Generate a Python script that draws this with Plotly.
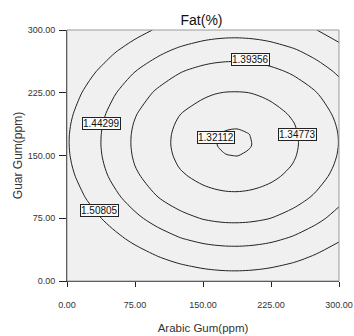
import plotly.graph_objects as go

# Response-surface grid (Arabic Gum x Guar Gum, ppm); Fat(%) values
x_vals = [0, 25, 50, 75, 100, 125, 150, 162.5, 175, 187.5, 200, 212.5, 225, 250, 275, 300]
y_vals = [0, 25, 50, 75, 100, 125, 137.5, 150, 162.5, 175, 187.5, 200, 225, 250, 275, 300]
fat_z = [
    [1.7314, 1.6824, 1.6406, 1.6059, 1.5783, 1.5578, 1.5444, 1.5404, 1.5381, 1.5376, 1.5389, 1.5420, 1.5468, 1.5618, 1.5839, 1.6131],
    [1.6705, 1.6215, 1.5797, 1.5450, 1.5174, 1.4969, 1.4835, 1.4795, 1.4772, 1.4767, 1.4780, 1.4811, 1.4859, 1.5009, 1.5230, 1.5522],
    [1.6195, 1.5706, 1.5288, 1.4940, 1.4664, 1.4459, 1.4325, 1.4285, 1.4262, 1.4257, 1.4270, 1.4301, 1.4349, 1.4499, 1.4720, 1.5012],
    [1.5784, 1.5295, 1.4877, 1.4530, 1.4254, 1.4049, 1.3915, 1.3874, 1.3851, 1.3847, 1.3859, 1.3890, 1.3938, 1.4088, 1.4309, 1.4601],
    [1.5472, 1.4983, 1.4565, 1.4218, 1.3942, 1.3737, 1.3603, 1.3563, 1.3540, 1.3535, 1.3548, 1.3578, 1.3627, 1.3777, 1.3998, 1.4290],
    [1.5260, 1.4771, 1.4353, 1.4005, 1.3729, 1.3524, 1.3390, 1.3350, 1.3327, 1.3322, 1.3335, 1.3366, 1.3414, 1.3564, 1.3785, 1.4077],
    [1.5191, 1.4702, 1.4284, 1.3936, 1.3660, 1.3455, 1.3321, 1.3281, 1.3258, 1.3253, 1.3266, 1.3297, 1.3345, 1.3495, 1.3716, 1.4008],
    [1.5146, 1.4657, 1.4239, 1.3892, 1.3616, 1.3411, 1.3277, 1.3237, 1.3214, 1.3209, 1.3222, 1.3252, 1.3301, 1.3451, 1.3672, 1.3964],
    [1.5127, 1.4638, 1.4220, 1.3873, 1.3597, 1.3391, 1.3257, 1.3217, 1.3194, 1.3189, 1.3202, 1.3233, 1.3281, 1.3431, 1.3652, 1.3944],
    [1.5132, 1.4643, 1.4225, 1.3878, 1.3602, 1.3397, 1.3263, 1.3222, 1.3200, 1.3195, 1.3208, 1.3238, 1.3287, 1.3437, 1.3657, 1.3949],
    [1.5162, 1.4673, 1.4255, 1.3908, 1.3632, 1.3427, 1.3293, 1.3252, 1.3230, 1.3225, 1.3238, 1.3268, 1.3317, 1.3467, 1.3687, 1.3979],
    [1.5217, 1.4728, 1.4310, 1.3963, 1.3687, 1.3482, 1.3348, 1.3307, 1.3284, 1.3280, 1.3292, 1.3323, 1.3371, 1.3521, 1.3742, 1.4034],
    [1.5401, 1.4912, 1.4494, 1.4147, 1.3871, 1.3666, 1.3532, 1.3491, 1.3468, 1.3464, 1.3476, 1.3507, 1.3555, 1.3705, 1.3926, 1.4218],
    [1.5684, 1.5195, 1.4777, 1.4430, 1.4154, 1.3949, 1.3815, 1.3774, 1.3752, 1.3747, 1.3760, 1.3790, 1.3838, 1.3988, 1.4209, 1.4501],
    [1.6066, 1.5577, 1.5159, 1.4812, 1.4536, 1.4331, 1.4197, 1.4156, 1.4134, 1.4129, 1.4142, 1.4172, 1.4221, 1.4371, 1.4592, 1.4884],
    [1.6548, 1.6058, 1.5640, 1.5293, 1.5017, 1.4812, 1.4678, 1.4638, 1.4615, 1.4610, 1.4623, 1.4654, 1.4702, 1.4852, 1.5073, 1.5365],
]

levels = [1.32112, 1.34773, 1.39356, 1.44299, 1.50805]
label_x = [164.3, 253.7, 202.9, 37.5, 35.8]
label_y = [172.1, 175.7, 265.3, 188.8, 83.7]

x_ticks = [0, 75, 150, 225, 300]
y_ticks = [0, 75, 150, 225, 300]

FONT = "Liberation Sans, Arial, sans-serif"

fig = go.Figure()
for lvl in levels:
    fig.add_trace(go.Contour(
        x=x_vals, y=y_vals, z=fat_z,
        autocontour=False,
        contours=dict(start=lvl, end=lvl, size=0.01, coloring="none"),
        line=dict(color="#222222", width=1, smoothing=0.8),
        showscale=False, hoverinfo="skip",
    ))

annotations = []
for lvl, lx, ly in zip(levels, label_x, label_y):
    annotations.append(dict(
        x=lx, y=ly, xref="x", yref="y", text=f"{lvl:.5f}", showarrow=False,
        font=dict(family=FONT, size=10, color="#111111"),
        bgcolor="#fafafa", bordercolor="#222222", borderwidth=1, borderpad=0,
    ))

fig.update_layout(
    width=354, height=336,
    margin=dict(l=67, r=15, t=30, b=55, autoexpand=False),
    paper_bgcolor="white", plot_bgcolor="#f0f0f0",
    showlegend=False,
    font=dict(family=FONT, size=9, color="#222222"),
    title=dict(text="Fat(%)", x=201.5 / 354, xref="container", xanchor="center",
               y=1 - 20 / 336, yanchor="middle", yref="container",
               font=dict(family=FONT, size=14, color="#111111")),
    annotations=annotations,
    shapes=[dict(type="rect", xref="paper", yref="paper", x0=0, x1=1, y0=0, y1=1,
                 line=dict(color="#9a9a9a", width=1), layer="above")],
    xaxis=dict(range=[0, 300], tickvals=x_ticks, tickformat=".2f",
               ticks="outside", ticklen=5, tickcolor="#222222", tickwidth=1,
               ticklabelstandoff=10, automargin=False,
               showline=True, linecolor="#222222", linewidth=1,
               showgrid=False, zeroline=False,
               tickfont=dict(family=FONT, size=9, color="#333333"),
               title=dict(text="Arabic Gum(ppm)", standoff=15,
                          font=dict(family=FONT, size=11.5, color="#333333"))),
    yaxis=dict(range=[0, 300], tickvals=y_ticks, tickformat=".2f",
               ticks="outside", ticklen=7, tickcolor="#222222", tickwidth=1,
               ticklabelstandoff=2, automargin=False,
               showline=True, linecolor="#222222", linewidth=1,
               showgrid=False, zeroline=False,
               tickfont=dict(family=FONT, size=9, color="#333333"),
               title=dict(text="Guar Gum(ppm)", standoff=2,
                          font=dict(family=FONT, size=12, color="#333333"))),
)

fig.write_html("out.html", config={"displayModeBar": False},
               post_script="document.body.style.margin='0';document.body.style.overflow='hidden';")
